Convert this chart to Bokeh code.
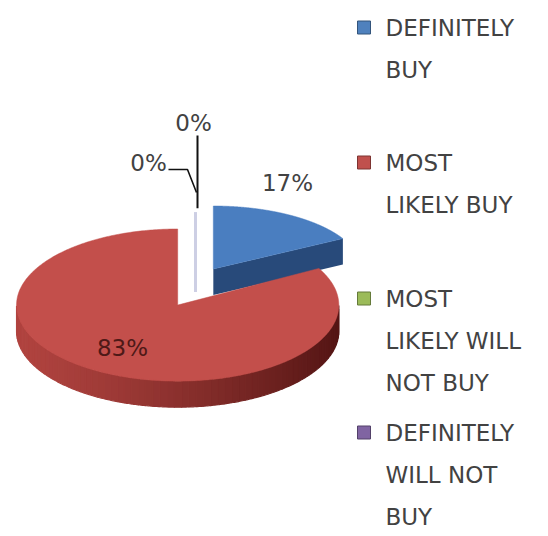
import numpy as np
from bokeh.plotting import figure
from bokeh.models import Range1d
from bokeh.core.properties import value
from bokeh.embed import file_html
from bokeh.resources import INLINE

# ---- data ----
categories = ["DEFINITELY BUY", "MOST LIKELY BUY", "MOST LIKELY WILL NOT BUY", "DEFINITELY WILL NOT BUY"]
legend_lines = [["DEFINITELY", "BUY"], ["MOST", "LIKELY BUY"], ["MOST", "LIKELY WILL", "NOT BUY"],
                ["DEFINITELY", "WILL NOT", "BUY"]]
values = [17, 83, 0, 0]
pct_labels = ["17%", "83%", "0%", "0%"]
top_colors = ["#4a7ec0", "#c34f4b", "#9bbb59", "#8064a2"]
wall_light = ["#2e548a", "#b0433f", "#7d9a45", "#66508a"]
wall_dark = ["#1f3b62", "#541514", "#5a7030", "#4a3a66"]
legend_colors = ["#4f81bd", "#c0504d", "#9bbb59", "#8064a2"]

# ---- layout ----
W, H = 548, 536
cx0, cy0 = 195.0, 286.5
rx0, ry0 = 154.5, 69.5
ex, ey = 35.0, 21.0
kx, ky = 0.05, 0.11
depth = 26.0
FONT = value("DejaVu Sans")
TXT = "#424242"

p = figure(width=W, height=H, x_range=Range1d(0, W), y_range=Range1d(H, 0),
           output_backend="svg", toolbar_location=None, min_border=0,
           x_axis_type=None, y_axis_type=None)
p.grid.visible = False
p.outline_line_color = None
p.background_fill_color = "white"
p.border_fill_color = "white"


def hex2rgb(h):
    h = h.lstrip("#")
    return [int(h[i:i + 2], 16) for i in (0, 2, 4)]


def mix(c1, c2, t):
    a, b = hex2rgb(c1), hex2rgb(c2)
    return "#%02x%02x%02x" % tuple(int(round(a[i] + (b[i] - a[i]) * t)) for i in range(3))


total = float(sum(values))
cum = np.concatenate([[0], np.cumsum(values)])
starts = [90 - 360 * cum[i] / total for i in range(len(values))]
ends = [90 - 360 * cum[i + 1] / total for i in range(len(values))]


def geom(i):
    mid = np.radians((starts[i] + ends[i]) / 2)
    return (cx0 + ex * np.cos(mid), cy0 - ey * np.sin(mid),
            rx0 * (1 - kx * np.sin(mid)), ry0 * (1 - ky * np.sin(mid)))


def pt(g, deg):
    cx, cy, rx, ry = g
    t = np.radians(deg)
    return cx + rx * np.cos(t), cy - ry * np.sin(t)


order = sorted(range(len(values)), key=lambda i: geom(i)[1])
for i in order:
    g = geom(i)
    cx, cy, rx, ry = g
    s, e = starts[i], ends[i]
    if values[i] == 0:
        tx, ty = pt(g, s)
        p.segment(x0=[tx], y0=[ty + 8], x1=[tx], y1=[cy + depth],
                  line_color="#cdcfe4", line_width=3)
        continue
    # radial walls
    for ang, vis in ((s, np.cos(np.radians(s)) < -1e-9), (e, np.cos(np.radians(e)) > 1e-9)):
        if vis:
            ox, oy = pt(g, ang)
            p.patch([cx, ox, ox, cx], [cy, oy, oy + depth, cy + depth],
                    fill_color=mix(wall_light[i], wall_dark[i], 0.4), line_color=None)
    # outer front wall (shaded bands)
    angs = np.linspace(s, e, 400)
    front = angs[np.sin(np.radians(angs)) < 0]
    if len(front) > 1:
        fa = np.linspace(front[0], front[-1], 70)
        xs, ys, cols = [], [], []
        for a0, a1 in zip(fa[:-1], fa[1:]):
            aa = np.linspace(a0, a1, 6)
            px, py = pt(g, aa)
            xs.append(np.concatenate([px, px[::-1]]))
            ys.append(np.concatenate([py, py[::-1] + depth]))
            tpos = (np.cos(np.radians((a0 + a1) / 2)) + 1) / 2
            cols.append(mix(wall_light[i], wall_dark[i], tpos ** 1.3))
        p.patches(xs, ys, fill_color=cols, line_color=cols, line_width=1.2)
    # top face
    ax, ay = pt(g, angs)
    p.patch(np.concatenate([[cx], ax, [cx]]), np.concatenate([[cy], ay, [cy]]),
            fill_color=top_colors[i], line_color=top_colors[i], line_width=0.5)

# ---- data labels ----
lab_pos = [(287, 182), (122, 347), (148, 162), (193, 122)]
lab_cols = [TXT, "#4e1917", TXT, TXT]
p.text(x=[q[0] for q in lab_pos], y=[q[1] for q in lab_pos], text=pct_labels,
       text_font=FONT, text_font_size="23px", text_color=lab_cols,
       text_align="center", text_baseline="middle")

# leader lines for the zero slices
zg = geom(2)
zx, zy = pt(zg, starts[2])
p.line([zx + 2, zx + 2], [135, zy + 4], line_color="#111111", line_width=2)
p.line([168, 187, zx + 1], [169, 169, 192], line_color="#111111", line_width=1.6)

# ---- legend ----
legend_y = [27, 162, 298, 432]
line_gap = 42
p.rect(x=[363.5] * 4, y=legend_y, width=13, height=13, fill_color=legend_colors,
       line_color=[mix(c, "#000000", 0.35) for c in legend_colors], line_width=1)
lx, ly, lt = [], [], []
for k, lines in enumerate(legend_lines):
    for j, t in enumerate(lines):
        lx.append(385)
        ly.append(legend_y[k] + j * line_gap)
        lt.append(t)
p.text(x=lx, y=ly, text=lt, text_font=FONT, text_font_size="23px", text_color=TXT,
       text_align="left", text_baseline="middle")

open("out.html", "w").write(file_html(p, INLINE))
